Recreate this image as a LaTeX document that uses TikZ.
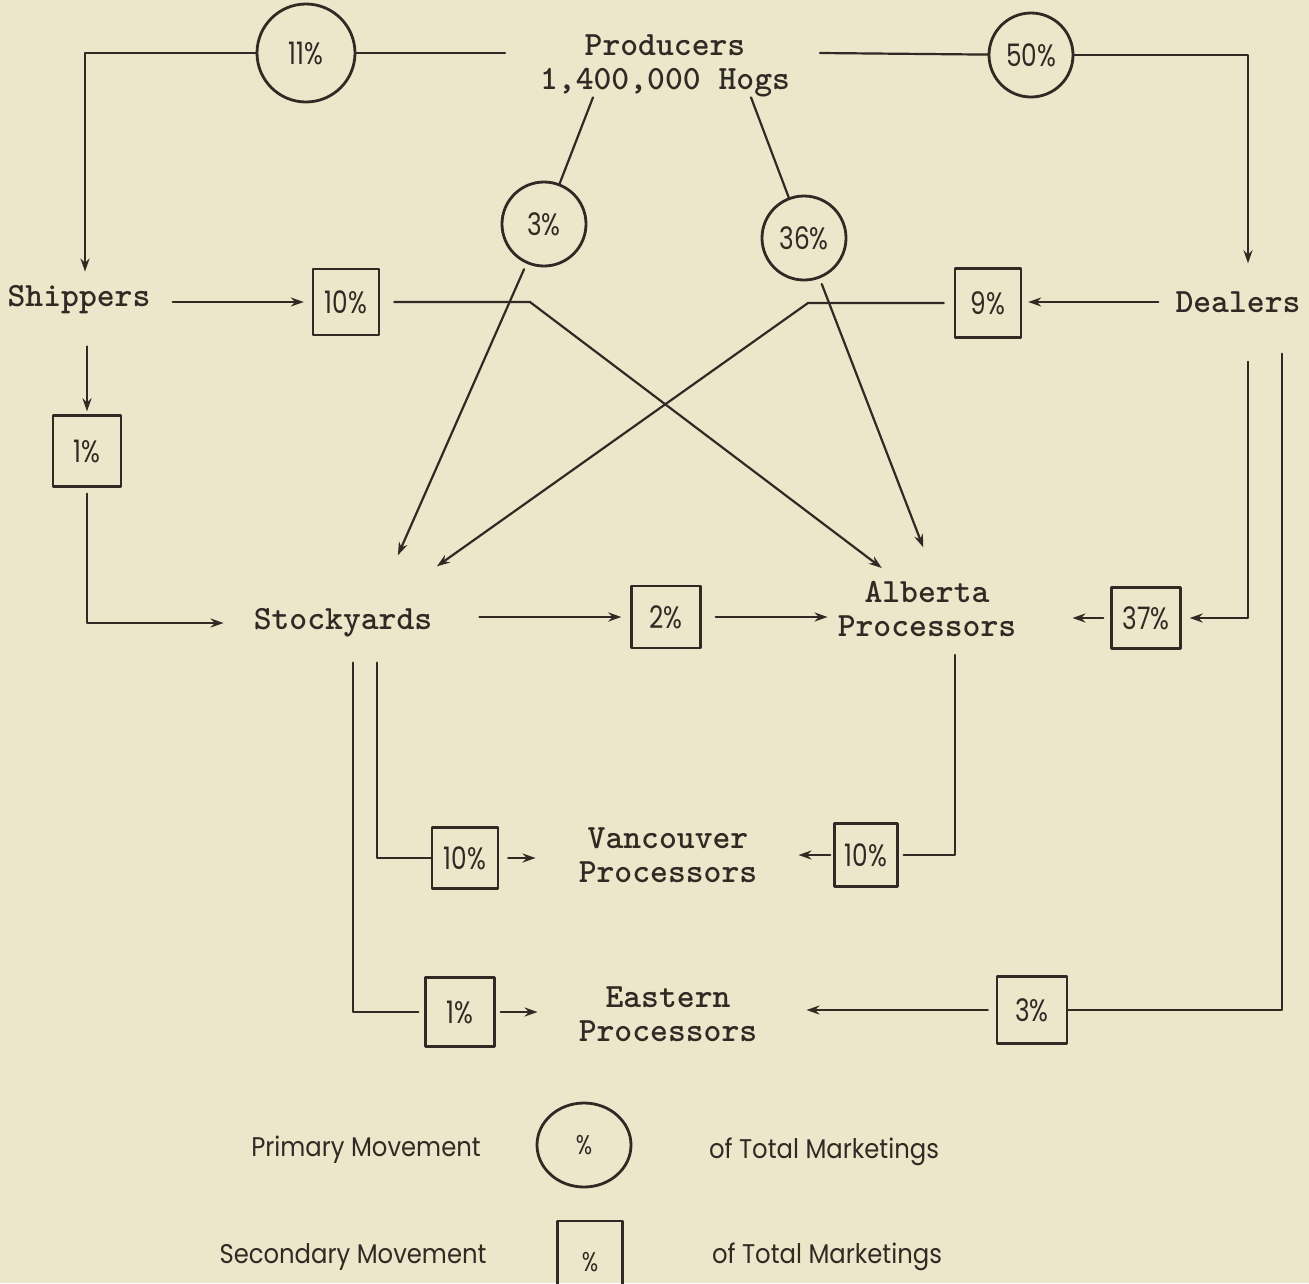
\documentclass[tikz,border=0pt]{standalone}
\usepackage{fontspec}
\newfontfamily\pctfont{Poppins}[FakeStretch=0.8]
\newfontfamily\legfont{Poppins}[FakeStretch=0.9]
\usetikzlibrary{arrows.meta,shapes.geometric}
\definecolor{paper}{RGB}{236,230,202}
\definecolor{ink}{RGB}{48,42,36}
\begin{document}
\begin{tikzpicture}[x=1pt, y=-1pt, color=ink, line join=round, line cap=round,
    >={Stealth[length=13pt,width=9pt]},
    place/.style={font=\ttfamily\bfseries\fontsize{34}{34}\selectfont, align=center, inner sep=0pt},
    primary/.style={circle, draw, line width=2.8pt, minimum size=84pt, inner sep=0pt,
        font=\pctfont\fontsize{31}{31}\selectfont},
    secondary/.style={rectangle, draw, line width=2.4pt, minimum width=66pt, minimum height=66pt,
        inner sep=0pt, font=\pctfont\fontsize{31}{31}\selectfont},
    link/.style={line width=2.2pt},
    flow/.style={link, ->},
    legend/.style={font=\legfont\fontsize{27}{27}\selectfont, inner sep=0pt}]
  \fill[paper] (0,0) rectangle (1309,1283);
  \clip (0,0) rectangle (1309,1283);

  % places
  \node[place] (prod) at (665,66) {Producers\\1,400,000 Hogs};
  \node[place] (ship) at (79,300) {Shippers};
  \node[place] (deal) at (1238,302) {Dealers};
  \node[place] (stock) at (343,623) {Stockyards};
  \node[place] (alb) at (927,609) {Alberta\\Processors};
  \node[place] (van) at (668,855) {Vancouver\\Processors};
  \node[place] (east) at (668,1014) {Eastern\\Processors};

  % primary movement
  \node[primary, minimum size=98pt] (c11) at (306,53) {11\%};
  \node[primary] (c3) at (544,224) {3\%};
  \node[primary] (c36) at (804,238) {36\%};
  \node[primary] (c50) at (1031,55) {50\%};

  % secondary movement
  \node[secondary] (b10a) at (346,302) {10\%};
  \node[secondary, minimum height=69pt] (b9) at (988,303) {9\%};
  \node[secondary, minimum width=68pt, minimum height=71pt] (b1a) at (87,451) {1\%};
  \node[secondary, minimum width=69pt, minimum height=62pt] (b2) at (666,617) {2\%};
  \node[secondary, minimum width=69pt, minimum height=61pt] (b37) at (1146,618) {37\%};
  \node[secondary, minimum height=61pt] (b10b) at (465,858) {10\%};
  \node[secondary, minimum width=63pt, minimum height=63pt] (b10c) at (866,855) {10\%};
  \node[secondary, minimum width=69pt, minimum height=69pt] (b1b) at (460,1012) {1\%};
  \node[secondary, minimum width=70pt, minimum height=67pt] (b3) at (1032,1010) {3\%};

  \coordinate (pw) at (505,53);
  \coordinate (pe) at (820,53);
  \coordinate (k1) at (530,302);
  \coordinate (k2) at (808,303);

  % from the producers
  \draw[link] (pw) -- (c11);
  \draw[flow, shorten >=14pt] (c11) -| ([xshift=6pt]ship.north);
  \draw[link] (pe) -- (c50);
  \draw[flow, shorten >=28pt] (c50) -| ([xshift=10pt]deal.north);
  \draw[link] ([xshift=-72pt]prod.south) -- (c3);
  \draw[link] ([xshift=86pt]prod.south) -- (c36);
  \draw[flow, shorten <=6pt, shorten >=74pt] (c3) -- ([xshift=25pt]stock.center);
  \draw[flow, shorten <=6pt, shorten >=66pt] (c36) -- ([xshift=20pt]alb.center);

  % shippers and dealers
  \draw[flow, shorten <=22pt, shorten >=8pt] (ship.east |- b10a.west) -- (b10a.west);
  \draw[flow, shorten <=14pt, shorten >=68pt] (b10a.east) -- (k1) -- ([xshift=9pt]alb.center);
  \draw[flow, shorten <=17pt, shorten >=6pt] (deal.west) -- (deal.west -| b9.east);
  \draw[flow, shorten <=10pt, shorten >=98pt] (b9.west) -- (k2) -- ([xshift=14pt]stock.center);
  \draw[flow, shorten <=32pt, shorten >=3pt] (b1a.north |- ship.south) -- (b1a.north);
  \draw[flow, shorten <=6pt, shorten >=30pt] (b1a.south) |- (stock.west);
  \draw[flow, shorten <=49pt, shorten >=8pt] ([xshift=10pt]deal.south) |- (b37.east);
  \draw[flow, shorten <=7pt, shorten >=56pt] (b37.west) -- (b37.west -| alb.east);
  \draw[link, shorten <=41pt] ([xshift=44pt]deal.south) |- (b3.east);
  \draw[flow, shorten <=8pt, shorten >=49pt] (b3.west) -- (b3.west -| east.east);

  % stockyards and processors
  \draw[flow, shorten <=47pt, shorten >=9pt] (stock.east |- b2.west) -- (b2.west);
  \draw[flow, shorten <=14pt, shorten >=10pt] (b2.east) -- (b2.east -| alb.west);
  \draw[link, shorten <=25pt] ([xshift=34pt]stock.south) |- (b10b.west);
  \draw[flow, shorten <=9pt, shorten >=43pt] (b10b.east) -- (b10b.east -| van.west);
  \draw[link, shorten <=25pt, shorten >=6pt] ([xshift=10pt]stock.south) |- (b1b.west);
  \draw[flow, shorten <=5pt, shorten >=41pt] (b1b.east) -- (b1b.east -| east.west);
  \draw[link, shorten <=18pt, shorten >=5pt] ([xshift=28pt]alb.south) |- (b10c.east);
  \draw[flow, shorten <=3pt, shorten >=41pt] (b10c.west) -- (b10c.west -| van.east);

  % legend
  \node[legend] (lp) at (366,1150) {Primary Movement};
  \node[ellipse, draw, line width=2.8pt, minimum width=94pt, minimum height=84pt, inner sep=0pt,
        font=\pctfont\fontsize{27}{27}\selectfont] (lc) at (584,1145) {\%};
  \node[legend] (lpt) at (824,1152) {of Total Marketings};
  \node[legend] (ls) at (353,1257) {Secondary Movement};
  \node[secondary, minimum width=65pt, minimum height=82pt, font=\pctfont\fontsize{27}{27}\selectfont]
        (lb) at (590,1262) {\%};
  \node[legend] (lst) at (827,1257) {of Total Marketings};
\end{tikzpicture}
\end{document}
